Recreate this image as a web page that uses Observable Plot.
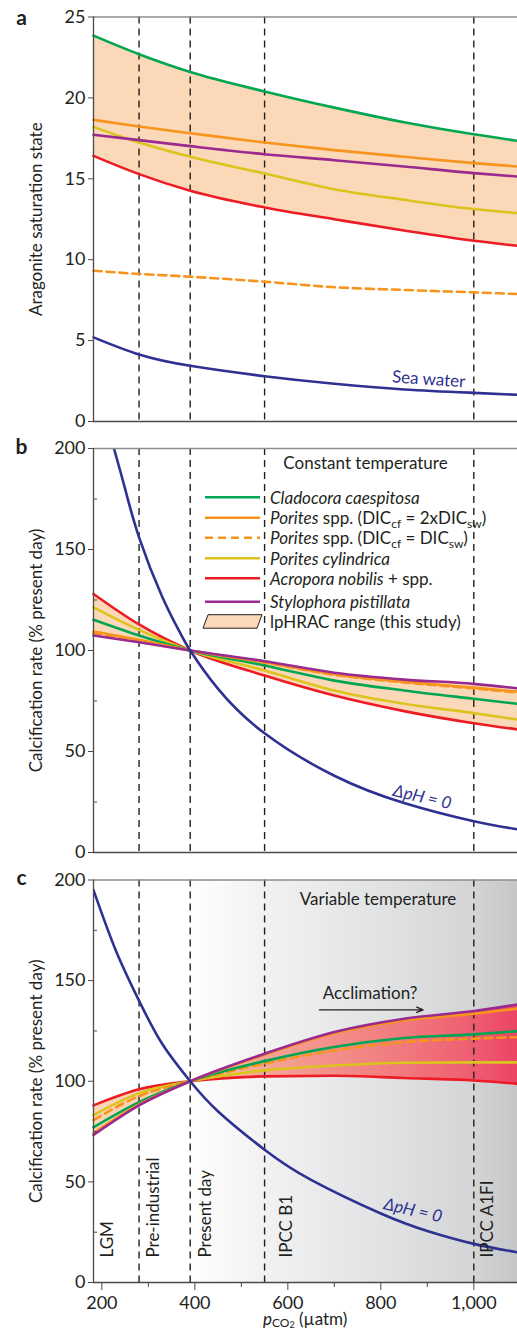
<!DOCTYPE html>
<html>
<head>
<meta charset="utf-8">
<script src="https://cdn.jsdelivr.net/npm/d3@7"></script>
<script src="https://cdn.jsdelivr.net/npm/@observablehq/plot@0.6"></script>
<style>
  html, body { margin: 0; padding: 0; background: #fff; }
  #wrap { position: relative; width: 517px; height: 1334px; overflow: hidden; font-family: Lato, sans-serif; color: #231f20; }
  #wrap svg { display: block; overflow: visible; }
  #xlab { position: absolute; left: 263px; top: 1310px; font-size: 17px; white-space: nowrap; line-height: 17px; }
  #xlab .sub { font-size: 12px; line-height: 12px; position: relative; top: 2px; }
  #xlab .sub2 { font-size: 9px; line-height: 9px; position: relative; top: 1px; }
</style>
</head>
<body>
<div id="wrap"></div>
<script>
// ---------------- data ----------------
const pco2 = [182, 280, 390, 550, 700, 850, 1000, 1094];
const eventLines = [280, 390, 550, 1000];
const eventLabels = ["LGM", "Pre-industrial", "Present day", "IPCC B1", "IPCC A1FI"];
const eventLabelX = [213, 312, 423, 597, 1030];

const seriesNames = ["Cladocora caespitosa", "Porites spp. (DICcf = 2xDICsw)", "Porites spp. (DICcf = DICsw)",
  "Porites cylindrica", "Acropora nobilis + spp.", "Stylophora pistillata"];

// panel a: aragonite saturation state
const aClad = [23.85, 22.7, 21.6, 20.4, 19.4, 18.5, 17.75, 17.35];
const aPor2 = [18.64, 18.23, 17.82, 17.24, 16.77, 16.36, 15.97, 15.76];
const aPor1 = [9.32, 9.12, 8.95, 8.64, 8.3, 8.13, 7.98, 7.88];
const aCyl  = [18.21, 17.24, 16.36, 15.33, 14.36, 13.7, 13.13, 12.88];
const aAcro = [16.42, 15.29, 14.26, 13.23, 12.5, 11.8, 11.17, 10.86];
const aStyl = [17.72, 17.39, 17.02, 16.52, 16.15, 15.76, 15.35, 15.14];
const aSea  = [5.2, 4.14, 3.44, 2.8, 2.33, 1.98, 1.77, 1.65];

// panel b: calcification, constant temperature
const bClad = [115.2, 107.4, 100, 92.6, 85.1, 80.2, 76.1, 73.6];
const bPor2 = [109.4, 105.3, 100, 94.2, 88.3, 84.6, 81.6, 79.6];
const bPor1 = [108.6, 104.9, 100, 94.0, 88.0, 84.2, 81.2, 79.2];
const bCyl  = [121.4, 110.2, 100, 90.1, 80.2, 73.6, 69.0, 65.8];
const bAcro = [128.0, 112.9, 100, 87.6, 77.7, 70.0, 64.0, 60.9];
const bStyl = [107.4, 104.1, 100, 94.7, 89.0, 85.6, 83.5, 81.3];
const bSeaX = [226, 250, 280, 330, 370, 390, 450, 550, 700, 850, 1000, 1094];
const bSea  = [200, 180, 156, 126.5, 108, 100, 81, 59, 38, 24.5, 15.5, 11.5];

// panel c: calcification, variable temperature
const cClad = [77.1, 89.6, 100, 110.0, 117.0, 121.5, 123.3, 124.9];
const cPor2 = [74.3, 88.5, 100, 113.2, 123.8, 130.2, 133.6, 136.1];
const cPor1 = [80.7, 92.6, 100, 108.8, 115.3, 119.4, 121.2, 121.9];
const cCyl  = [83.2, 94.1, 100, 105.4, 107.8, 109.2, 109.4, 109.4];
const cAcro = [88.0, 96.0, 100, 102.4, 102.7, 101.6, 100.4, 98.7];
const cStyl = [73.3, 88.0, 100, 113.7, 124.5, 131.1, 134.9, 138.2];
const cSeaX = [182, 230, 280, 330, 390, 450, 550, 650, 800, 900, 1000, 1094];
const cSea  = [195, 165, 140, 118.5, 100, 85, 66, 51, 34.3, 25.6, 19.2, 15];

const aTicks = [0, 5, 10, 15, 20, 25];
const bcTicks = [0, 50, 100, 150, 200];
const bcMinor = [25, 75, 125, 175];
const xTicks = [200, 400, 600, 800, 1000];
const xMinor = [300, 500, 700, 900];

// ---------------- styles ----------------
const INK = "#231f20", AXIS = "#4a4a4a", TOPLINE = "#8d8d8d";
const GREEN = "#00a651", ORANGE = "#f7941d", YELLOW = "#dcc31e", RED = "#ed1c24", PURPLE = "#9b2a8f", BLUE = "#2e3192";
const PEACH = "#fbd8b7";
const seriesColor = [GREEN, ORANGE, ORANGE, YELLOW, RED, PURPLE];
const seriesDash = [null, null, "8,5", null, null, null];
const drawOrder = [4, 3, 2, 0, 1, 5];
const CURVE = "monotone-x";
const xDomain = [182, 1094];

function toRows(xs, ys) { return xs.map((x, j) => ({x, y: ys[j]})); }
function band(series) {
  return pco2.map((x, j) => ({x, lo: d3.min(series, s => s[j]), hi: d3.max(series, s => s[j])}));
}
function seriesLines(series) {
  return drawOrder.map(i => Plot.line(toRows(pco2, series[i]), {
    x: "x", y: "y", stroke: seriesColor[i], strokeWidth: 2.6, curve: CURVE,
    strokeDasharray: seriesDash[i] ?? undefined
  }));
}
function base(height, mt, mb, ydom) {
  return {
    width: 517, height, marginLeft: 93, marginRight: 0, marginTop: mt, marginBottom: mb,
    x: {domain: xDomain, axis: null}, y: {domain: ydom, axis: null},
    style: {fontFamily: "Lato, sans-serif", fontSize: "18px", color: INK, background: "transparent", overflow: "visible"}
  };
}
function frameMarks(ytop) {
  return [
    Plot.ruleY([ytop], {stroke: TOPLINE, strokeWidth: 1.6}),
    Plot.ruleY([0], {stroke: AXIS, strokeWidth: 1.3}),
    Plot.ruleX([xDomain[0]], {stroke: AXIS, strokeWidth: 1.3})
  ];
}
const dashRule = () => Plot.ruleX(eventLines, {stroke: INK, strokeWidth: 1.4, strokeDasharray: "7,5"});
function letter(ch, dy) {
  return Plot.text([ch], {text: d => d, frameAnchor: "top-left", textAnchor: "middle", lineAnchor: "middle",
    dx: -72, dy, fontWeight: "bold", fontSize: 21, fill: INK});
}
function yLabel(str) {
  return Plot.text([str], {text: d => d, frameAnchor: "left", textAnchor: "middle", lineAnchor: "middle",
    rotate: -90, dx: -57, fontSize: 17, fill: INK});
}

const wrap = document.getElementById("wrap");

// ---------------- panel a ----------------
const aSeries = [aClad, aPor2, aPor1, aCyl, aAcro, aStyl];
const plotA = Plot.plot({
  ...base(434, 16.5, 13, [0, 25]),
  marks: [
    Plot.areaY(pco2.map((x, j) => ({x, lo: aAcro[j], hi: aClad[j]})), {x: "x", y1: "lo", y2: "hi", fill: PEACH, curve: CURVE}),
    dashRule(),
    ...seriesLines(aSeries),
    Plot.line(toRows(pco2, aSea), {x: "x", y: "y", stroke: BLUE, strokeWidth: 2.6, curve: "natural"}),
    Plot.text([{x: 903, y: 2.6, t: "Sea water"}], {x: "x", y: "y", text: "t", rotate: 4, fill: BLUE, fontSize: 17}),
    ...frameMarks(25),
    Plot.axisY({ticks: aTicks, tickSize: 5, tickPadding: 3, fontSize: 18, label: null, stroke: AXIS}),
    letter("a", 1),
    yLabel("Aragonite saturation state")
  ]
});
wrap.appendChild(plotA);

// ---------------- panel b ----------------
const bSeries = [bClad, bPor2, bPor1, bCyl, bAcro, bStyl];
const plotB = Plot.plot({
  ...base(431, 14, 13, [0, 200]),
  marks: [
    Plot.areaY(band(bSeries), {x: "x", y1: "lo", y2: "hi", fill: PEACH, curve: CURVE}),
    dashRule(),
    ...seriesLines(bSeries),
    Plot.line(toRows(bSeaX, bSea), {x: "x", y: "y", stroke: BLUE, strokeWidth: 2.6, curve: "natural", clip: true}),
    Plot.text([{x: 889, y: 27.4, t: "ΔpH = 0"}], {x: "x", y: "y", text: "t", rotate: 13, fill: BLUE, fontSize: 17, fontStyle: "italic"}),
    Plot.text([{x: 767, y: 192.7, t: "Constant temperature"}], {x: "x", y: "y", text: "t", fill: INK, fontSize: 17}),
    ...frameMarks(200),
    Plot.axisY({ticks: bcTicks, tickSize: 5, tickPadding: 3, fontSize: 18, label: null, stroke: AXIS}),
    Plot.axisY({ticks: bcMinor, tickSize: 4, dx: 4, tickFormat: () => "", label: null, stroke: AXIS}),
    letter("b", -1),
    yLabel("Calcification rate (% present day)")
  ]
});
wrap.appendChild(plotB);

// legend (panel b)
{
  const rowsY = [63.3, 83.7, 103.7, 124.3, 144.3, 167.7, 187.7];
  const parts = [
    [["Cladocora caespitosa", "i"]],
    [["Porites", "i"], [" spp. (DIC", ""], ["cf", "sub"], [" = 2xDIC", ""], ["sw", "sub"], [")", ""]],
    [["Porites", "i"], [" spp. (DIC", ""], ["cf", "sub"], [" = DIC", ""], ["sw", "sub"], [")", ""]],
    [["Porites cylindrica", "i"]],
    [["Acropora nobilis", "i"], [" + spp.", ""]],
    [["Stylophora pistillata", "i"]],
    [["lpHRAC range (this study)", ""]]
  ];
  const g = d3.select(plotB).append("g").attr("font-family", "Lato, sans-serif").attr("font-size", 17)
    .attr("fill", INK).attr("text-anchor", "start");
  parts.forEach((p, k) => {
    const y = rowsY[k];
    if (k < 6) {
      g.append("line").attr("x1", 205).attr("x2", 260).attr("y1", y).attr("y2", y)
        .attr("stroke", seriesColor[k]).attr("stroke-width", 2.6)
        .attr("stroke-dasharray", seriesDash[k]);
    } else {
      g.append("polygon").attr("points", `203,${y + 6.5} 257,${y + 6.5} 262,${y - 7} 208,${y - 7}`)
        .attr("fill", PEACH).attr("stroke", INK).attr("stroke-width", 1);
    }
    const t = g.append("text").attr("x", 270).attr("y", y + 6.5).attr("text-anchor", "start");
    let shifted = false;
    p.forEach(([s, st]) => {
      const ts = t.append("tspan").text(s);
      if (st === "i") ts.attr("font-style", "italic");
      if (st === "sub") { ts.attr("font-size", 12).attr("dy", 4); shifted = true; }
      else if (shifted) { ts.attr("dy", -4); shifted = false; }
    });
  });
}

// ---------------- panel c ----------------
const cSeries = [cClad, cPor2, cPor1, cCyl, cAcro, cStyl];
const plotC = Plot.plot({
  ...base(447, 14.5, 30, [0, 200]),
  marks: [
    Plot.frame({fill: "url(#bgGradC)", stroke: "none"}),
    Plot.areaY(band(cSeries), {x: "x", y1: "lo", y2: "hi", fill: "url(#bandGradC)", curve: CURVE}),
    dashRule(),
    ...seriesLines(cSeries),
    Plot.line(toRows(cSeaX, cSea), {x: "x", y: "y", stroke: BLUE, strokeWidth: 2.6, curve: "natural", clip: true}),
    Plot.text([{x: 869, y: 35.8, t: "ΔpH = 0"}], {x: "x", y: "y", text: "t", rotate: 13, fill: BLUE, fontSize: 17, fontStyle: "italic"}),
    Plot.text([{x: 794, y: 190.3, t: "Variable temperature"}], {x: "x", y: "y", text: "t", fill: INK, fontSize: 17}),
    Plot.text([{x: 777, y: 143.5, t: "Acclimation?"}], {x: "x", y: "y", text: "t", fill: INK, fontSize: 17}),
    Plot.arrow([{x1: 668, x2: 891, y: 135.5}], {x1: "x1", x2: "x2", y1: "y", y2: "y", stroke: INK, strokeWidth: 1.3, headLength: 8, headAngle: 45}),
    Plot.text(eventLabels.map((t, i) => ({t, x: eventLabelX[i]})), {x: "x", text: "t", frameAnchor: "bottom", dy: -25,
      rotate: -90, textAnchor: "start", lineAnchor: "middle", fill: INK, fontSize: 17}),
    ...frameMarks(200),
    Plot.axisY({ticks: bcTicks, tickSize: 5, tickPadding: 3, fontSize: 18, label: null, stroke: AXIS}),
    Plot.axisY({ticks: bcMinor, tickSize: 4, dx: 4, tickFormat: () => "", label: null, stroke: AXIS}),
    Plot.axisX({ticks: xTicks, tickSize: 8, tickPadding: 6, tickFormat: d3.format(","), fontSize: 18, label: null, stroke: AXIS}),
    Plot.axisX({ticks: xMinor, tickSize: 5, tickFormat: () => "", label: null, stroke: AXIS}),
    letter("c", -1.5),
    yLabel("Calcification rate (% present day)")
  ]
});
{
  const defs = d3.select(plotC).insert("defs", ":first-child");
  const bg = defs.append("linearGradient").attr("id", "bgGradC").attr("x1", 0).attr("x2", 1).attr("y1", 0).attr("y2", 0);
  [[0, "#ffffff"], [0.22, "#ffffff"], [0.4, "#f2f2f3"], [0.67, "#e2e3e4"], [0.89, "#d4d5d7"], [1, "#c5c6c8"]]
    .forEach(([o, c]) => bg.append("stop").attr("offset", o).attr("stop-color", c));
  const bd = defs.append("linearGradient").attr("id", "bandGradC").attr("x1", 0).attr("x2", 1).attr("y1", 0).attr("y2", 0);
  [[0, "#fad6b6"], [0.228, "#f9cfb1"], [0.403, "#f5a596"], [0.568, "#f38e89"], [0.732, "#f1797e"], [0.897, "#ee5d71"], [1, "#ea4465"]]
    .forEach(([o, c]) => bd.append("stop").attr("offset", o).attr("stop-color", c));
}
wrap.appendChild(plotC);

const xl = document.createElement("div");
xl.id = "xlab";
xl.innerHTML = '<i>p</i><span class="sub">CO<span class="sub2">2</span></span> (µatm)';
wrap.appendChild(xl);
</script>
</body>
</html>
